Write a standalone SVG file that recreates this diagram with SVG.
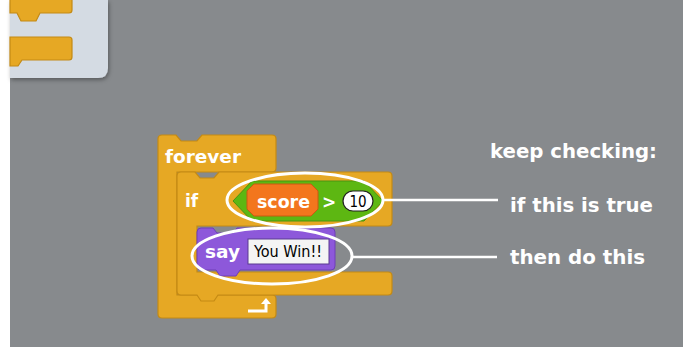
<svg xmlns="http://www.w3.org/2000/svg" width="685" height="347" viewBox="0 0 685 347">
<style>
.blk{fill:#E6A824;stroke:#C48A14;stroke-width:1.2}
.lbl{font-family:"DejaVu Sans",sans-serif;font-weight:bold;fill:#fff}
.note{font-family:"DejaVu Sans",sans-serif;font-weight:bold;fill:#fff;font-size:19px}
.ring{fill:none;stroke:#fff;stroke-width:3}
</style>
<defs>
<filter id="sh" x="-10%" y="-10%" width="130%" height="130%"><feDropShadow dx="1" dy="2" stdDeviation="2" flood-color="#000" flood-opacity="0.35"/></filter>
</defs>
<rect x="0" y="0" width="685" height="347" fill="#fff"/>
<rect x="10" y="0" width="673" height="347" fill="#878A8D"/>
<g id="palette">
<path d="M10,0 H108 V68 Q108,78 98,78 H10 Z" fill="#D4DBE3" filter="url(#sh)"/>
<path class="blk" d="M10,-4 H69 Q72,-4 72,0 V10 Q72,13 69,13 H40 L36,21 H21 L17,13 H10 Z"/>
<path class="blk" d="M10,37 H69 Q72,37 72,40 V57 Q72,60 69,60 H22 L18,66 H10 Z"/>
</g>
<g id="forever">
<path class="blk" d="M158,139 Q158,135 162,135 H176 L181,141 H197 L202,135 H272 Q276,135 276,139 V168 Q276,172 272,172 H177 V295 H272 Q276,295 276,299 V314 Q276,318 272,318 H162 Q158,318 158,314 Z"/>
<text class="lbl" x="165" y="163" font-size="17" textLength="76" lengthAdjust="spacingAndGlyphs">forever</text>
<path d="M248,311 H266 V303" fill="none" stroke="#fff" stroke-width="3"/>
<path d="M261,304 L266,298 L271,304 Z" fill="#fff"/>
</g>
<g id="if">
<path class="blk" d="M177,176 Q177,172 181,172 H195 L200,178 H214 L219,172 H388 Q392,172 392,176 V222 Q392,226 388,226 H197 V272 H388 Q392,272 392,276 V291 Q392,295 388,295 H218 L214,301 H201 L197,295 H181 Q177,295 177,291 Z"/>
<text class="lbl" x="185" y="207" font-size="17">if</text>
</g>
<g id="condition">
<path d="M233,201 L252,181 H364 L383,201 L364,221 H252 Z" fill="#5DB712" stroke="#4A9410" stroke-width="1"/>
<path d="M254,184 H311 L318,191 V209 L311,216 H254 L247,209 V191 Z" fill="#F3761D" stroke="#C85A10" stroke-width="1"/>
<text class="lbl" x="257" y="208" font-size="17" textLength="53" lengthAdjust="spacingAndGlyphs">score</text>
<text class="lbl" x="322" y="208" font-size="17" font-weight="normal">&gt;</text>
<rect x="343" y="191" width="30" height="20" rx="10" fill="#fff" stroke="#222" stroke-width="1.2"/>
<text x="358" y="207" font-family="DejaVu Sans Condensed,DejaVu Sans,sans-serif" font-size="15" text-anchor="middle" fill="#000">10</text>
</g>
<g id="say">
<path d="M197,232 Q197,228 201,228 H213 L217,233 H233 L237,228 H331 Q335,228 335,232 V266 Q335,270 331,270 H240 L236,276 H220 L216,270 H201 Q197,270 197,266 Z" fill="#8D58DA" stroke="#6E3FB8" stroke-width="1"/>
<text class="lbl" x="205" y="258" font-size="17" textLength="35" lengthAdjust="spacingAndGlyphs">say</text>
<rect x="248" y="239" width="81" height="25" fill="#F4F4F4" stroke="#5A3A90" stroke-width="1"/>
<text x="254" y="257" font-family="DejaVu Sans Condensed,DejaVu Sans,sans-serif" font-size="15" fill="#000" textLength="68" lengthAdjust="spacingAndGlyphs">You Win!!</text>
</g>
<g id="connectors">
<ellipse class="ring" cx="305" cy="200" rx="78" ry="27"/>
<ellipse class="ring" cx="272" cy="256" rx="80" ry="28"/>
<line x1="383" y1="200" x2="498" y2="200" stroke="#fff" stroke-width="2.5"/>
<line x1="352" y1="257" x2="497" y2="257" stroke="#fff" stroke-width="2.5"/>
</g>
<g id="notes">
<text class="note" x="490" y="158" textLength="167" lengthAdjust="spacingAndGlyphs">keep checking:</text>
<text class="note" x="510" y="212" textLength="143" lengthAdjust="spacingAndGlyphs">if this is true</text>
<text class="note" x="510" y="264" textLength="135" lengthAdjust="spacingAndGlyphs">then do this</text>
</g>
</svg>
